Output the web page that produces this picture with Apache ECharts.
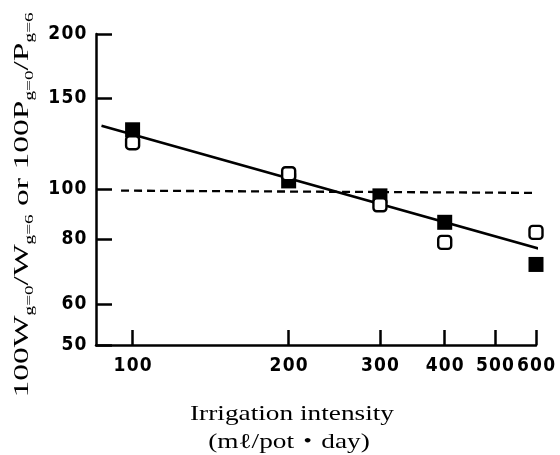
<!DOCTYPE html>
<html>
<head>
<meta charset="utf-8">
<script src="https://cdn.jsdelivr.net/npm/echarts@6/dist/echarts.min.js"></script>
<style>
html,body{margin:0;padding:0;background:#fff;}
#chart{width:560px;height:455px;}
</style>
</head>
<body>
<div id="chart"></div>
<script>
// Irrigation intensity (ml/pot/day)
const irrigation = [100, 200, 300, 400, 600];
// filled squares
const filledValues = [130.5, 103.9, 97.2, 86.4, 71.6];
// open squares
const openValues = [123.2, 107.3, 93.4, 79.0, 82.6];
// regression line end points
const regX = [87.1, 641];
const regY = [132.8, 75.7];
// dashed reference line
const refX = [95, 600];
const refY = [99.5, 98.5];
// tick labels
const xTicks = [100, 200, 300, 400, 500, 600];
const yTicks = [50, 60, 80, 100, 150, 200];

const digitRich = {d: {fontFamily: "'DejaVu Sans Condensed', 'DejaVu Sans', sans-serif", fontWeight: 'bold', fontSize: 19, color: '#000', padding: [0, 0.6, 0, 0.6]}};
const spaced = v => String(v).split('').map(c => '{d|' + c + '}').join('');
const serif = "'Liberation Serif', 'DejaVu Serif', 'Noto Sans CJK JP', serif";

const chart = echarts.init(document.getElementById('chart'), null, {renderer: 'canvas'});
chart.setOption({
  animation: false,
  backgroundColor: '#fff',
  grid: {left: 96, right: 24, top: 34, bottom: 110},
  xAxis: {
    type: 'log', logBase: 10, min: 85, max: 600,
    axisLine: {show: true, lineStyle: {color: '#000', width: 2.5}},
    axisTick: {show: true, inside: true, length: 15, lineStyle: {color: '#000', width: 2.5}, customValues: xTicks},
    axisLabel: {margin: 12, customValues: xTicks, formatter: spaced, rich: digitRich,
      showMaxLabel: true, showMinLabel: true, hideOverlap: false},
    splitLine: {show: false},
    minorTick: {show: false}
  },
  yAxis: {
    type: 'log', logBase: 10, min: 50, max: 200,
    axisLine: {show: true, lineStyle: {color: '#000', width: 2.5}},
    axisTick: {show: true, inside: true, length: 16, lineStyle: {color: '#000', width: 2.5}, customValues: yTicks},
    axisLabel: {margin: 9, customValues: yTicks, formatter: spaced, rich: digitRich,
      showMaxLabel: true, showMinLabel: true, hideOverlap: false},
    splitLine: {show: false}
  },
  series: [
    {
      type: 'line', data: regX.map((x, i) => [x, regY[i]]),
      showSymbol: false, symbol: 'none', clip: false,
      lineStyle: {color: '#000', width: 2.6}, z: 2
    },
    {
      type: 'line', data: refX.map((x, i) => [x, refY[i]]),
      showSymbol: false, symbol: 'none', clip: false,
      lineStyle: {color: '#000', width: 2.3, type: [8, 5]}, z: 2
    },
    {
      type: 'scatter', data: irrigation.map((x, i) => [x, filledValues[i]]),
      symbol: 'rect', symbolSize: 15,
      itemStyle: {color: '#000', opacity: 1}, z: 3
    },
    {
      type: 'scatter', data: irrigation.map((x, i) => [x, openValues[i]]),
      symbol: 'roundRect', symbolSize: 13,
      itemStyle: {color: '#fff', borderColor: '#000', borderWidth: 2.4, opacity: 1}, z: 4
    }
  ],
  graphic: [
    {
      type: 'text', x: 22, y: 205, rotation: Math.PI / 2, scaleX: 1.6, scaleY: 1,
      style: {
        text: '{m|100W}{s|g=0}{m|/W}{s|g=6}{m| or 100P}{s|g=0}{m|/P}{s|g=6}',
        align: 'center', verticalAlign: 'middle',
        rich: {
          m: {fontFamily: serif, fontSize: 21, lineHeight: 21, verticalAlign: 'top', fill: '#000'},
          s: {fontFamily: serif, fontSize: 12, lineHeight: 12, padding: [12, 0, 0, 0], verticalAlign: 'top', fill: '#000'}
        }
      }
    },
    {
      type: 'text', x: 292, y: 414, scaleX: 1.3,
      style: {text: 'Irrigation intensity', fontFamily: serif, fontSize: 21, fill: '#000', align: 'center', verticalAlign: 'middle'}
    },
    {
      type: 'text', x: 289, y: 442, scaleX: 1.3,
      style: {text: '(m\u2113/pot\u30FBday)', fontFamily: serif, fontSize: 21, fill: '#000', align: 'center', verticalAlign: 'middle'}
    }
  ]
});
</script>
</body>
</html>
